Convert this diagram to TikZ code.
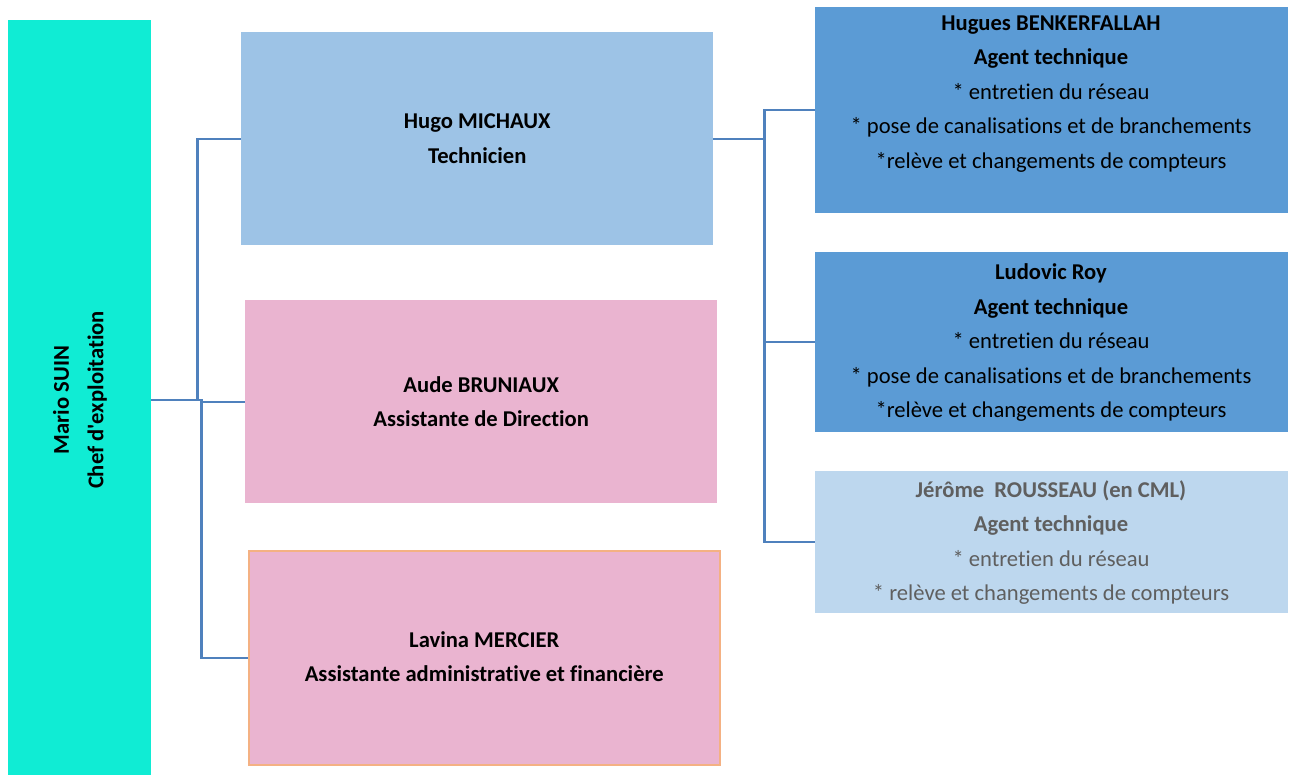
\documentclass[tikz,border=0pt]{standalone}
\usepackage{fontspec}
\setmainfont{Carlito}[Ligatures={NoCommon}]
\definecolor{marioC}{RGB}{16,236,212}
\definecolor{hugoC}{HTML}{9DC3E6}
\definecolor{pinkC}{RGB}{234,180,208}
\definecolor{orangeC}{HTML}{F4B183}
\definecolor{darkC}{HTML}{5B9BD5}
\definecolor{lightC}{HTML}{BDD7EE}
\definecolor{connC}{HTML}{4F81BD}
\definecolor{grayT}{HTML}{5F5F5F}
\begin{document}
\begin{tikzpicture}[x=1pt,y=-1pt,
  bx/.style={rectangle, draw=none, inner sep=0pt, anchor=north west},
  txt/.style={align=center, inner sep=0pt, font=\fontsize{22.6}{34.5}\selectfont},
  conn/.style={draw=connC, line width=2.2pt}]
\useasboundingbox (0,0) rectangle (1293,775);
% boxes
\node[bx, fill=marioC, minimum width=143pt, minimum height=760pt] (mario) at (8,20) {};
\node[bx, fill=hugoC, minimum width=472pt, minimum height=213pt] (hugo) at (241,32) {};
\node[bx, fill=pinkC, minimum width=472pt, minimum height=203pt] (aude) at (245,300) {};
\node[bx, fill=pinkC, draw=orangeC, line width=1.5pt, minimum width=471pt, minimum height=214pt] (lavina) at (248,550) {};
\node[bx, fill=darkC, minimum width=473pt, minimum height=206pt] (hugues) at (815,7) {};
\node[bx, fill=darkC, minimum width=473pt, minimum height=180pt] (ludovic) at (815,252) {};
\node[bx, fill=lightC, minimum width=473pt, minimum height=142pt] (jerome) at (815,471) {};
% texts
\node[txt, rotate=90] (marioT) at (80,400) {\textbf{Mario SUIN}\\\textbf{Chef d\textquotesingle exploitation}};
\node[txt] (hugoT) at (hugo.center) {\textbf{Hugo MICHAUX}\\\textbf{Technicien}};
\node[txt] (audeT) at (aude.center) {\textbf{Aude BRUNIAUX}\\\textbf{Assistante de Direction}};
\node[txt] (lavinaT) at ([yshift=1pt]lavina.center) {\textbf{Lavina MERCIER}\\\textbf{Assistante administrative et financière}};
\node[txt] (huguesT) at (1051,94) {\textbf{Hugues BENKERFALLAH}\\\textbf{Agent technique}\\* entretien du réseau\\* pose de canalisations et de branchements\\*relève et changements de compteurs};
\node[txt] (ludovicT) at (1051,343) {\textbf{Ludovic Roy}\\\textbf{Agent technique}\\* entretien du réseau\\* pose de canalisations et de branchements\\*relève et changements de compteurs};
\node[txt, text=grayT] (jeromeT) at (1051,542.5) {\textbf{Jérôme\ \ ROUSSEAU (en CML)}\\\textbf{Agent technique}\\* entretien du réseau\\* relève et changements de compteurs};
% connectors
\draw[conn] (mario.east) -- ++(46,0) |- (hugo.west);
\draw[conn] (mario.east) -- ++(50,0) |- (aude.west);
\draw[conn] (mario.east) ++(50,0) |- (lavina.west);
\draw[conn] (hugo.east) -- ++(51,0) |- (hugues.west);
\draw[conn] (hugo.east) ++(51,0) |- (ludovic.west);
\draw[conn] (hugo.east) ++(51,0) |- (jerome.west);
\end{tikzpicture}
\end{document}
